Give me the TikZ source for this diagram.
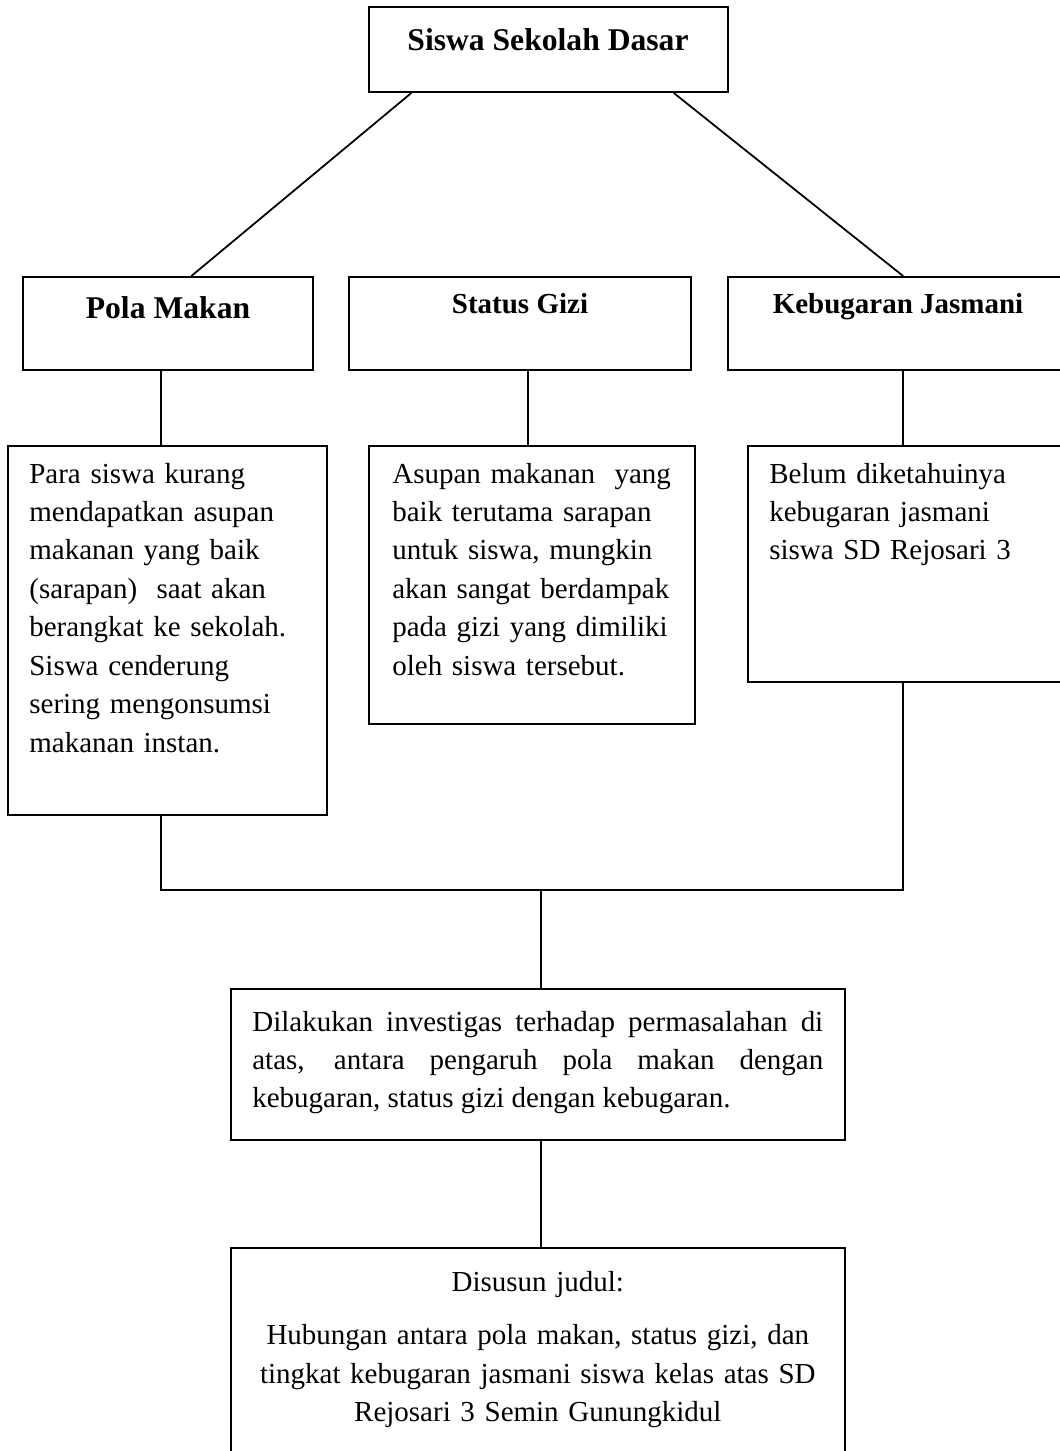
\documentclass[tikz,border=0pt]{standalone}
\usepackage{fontspec}
\setmainfont{Liberation Serif}
\usetikzlibrary{calc, fit}

\begin{document}
\begin{tikzpicture}[
x={(0.02 cm, 0 cm)}, y={(0 cm, -0.02 cm)},
% #region Picture settings %
kotak/.style={draw, line width=1.1pt, inner sep=0pt},
garis/.style={line width=1pt},
judul/.style={font=\bfseries\fontsize{16.5}{20}\selectfont, inner sep=0pt, anchor=base},
isi/.style={font=\fontsize{16.5}{21.9}\selectfont, inner sep=0pt, anchor=base west, align=left, text width=5.6cm},
% #endregion Picture settings %
]
\useasboundingbox (0,0) rectangle (1060,1451);

\node[kotak, fit={(369,7) (728,92)}] (siswa) {};
\node[kotak, fit={(23,277) (313,370)}] (pola) {};
\node[kotak, fit={(349,277) (691,370)}] (gizi) {};
\node[kotak, fit={(728,277) (1068,370)}] (bugar) {};
\node[kotak, fit={(8,446) (327,815)}] (polaisi) {};
\node[kotak, fit={(369,446) (695,724)}] (giziisi) {};
\node[kotak, fit={(748,446) (1068,682)}] (bugarisi) {};
\node[kotak, fit={(231,989) (845,1140)}] (investigasi) {};
\node[kotak, fit={(231,1248) (845,1470)}] (usulan) {};

\node[judul, font=\bfseries\fontsize{18}{22}\selectfont] (siswatxt) at (548,50) {Siswa Sekolah Dasar};
\node[judul, font=\bfseries\fontsize{18}{22}\selectfont] (polatxt) at (168,318) {Pola Makan};
\node[judul] (gizitxt) at (520,313) {Status Gizi};
\node[judul] (bugartxt) at (898,313) {Kebugaran Jasmani};

\node[isi] (polaisitxt) at (29,483) {Para siswa kurang\\ mendapatkan asupan\\ makanan yang baik\\ (sarapan)~ saat akan\\ berangkat ke sekolah.\\ Siswa cenderung\\ sering mengonsumsi\\ makanan instan.};
\node[isi] (giziisitxt) at (392,483) {Asupan makanan~ yang\\ baik terutama sarapan\\ untuk siswa, mungkin\\ akan sangat berdampak\\ pada gizi yang dimiliki\\ oleh siswa tersebut.};
\node[isi] (bugarisitxt) at (769,483) {Belum diketahuinya\\ kebugaran jasmani\\ siswa SD Rejosari 3};
\node[isi, align=justify, text width=11.42cm] (investigasitxt) at (252,1031) {Dilakukan investigas terhadap permasalahan di\linebreak atas, antara pengaruh pola makan dengan\linebreak kebugaran, status gizi dengan kebugaran.};
\node[isi, align=center, text width=11.42cm] (usulantxt) at (252,1291) {Disusun judul:\\[0.31cm] Hubungan antara pola makan, status gizi, dan\\ tingkat kebugaran jasmani siswa kelas atas SD\\ Rejosari 3 Semin Gunungkidul};

\coordinate (kiri) at (161,890);
\coordinate (tengah) at (541,890);
\coordinate (kanan) at (903,890);

\draw[garis] ($(siswa.south west)!.12!(siswa.south east)$) -- ($(pola.north west)!.58!(pola.north east)$);
\draw[garis] ($(siswa.south west)!.847!(siswa.south east)$) -- ($(bugar.north west)!.515!(bugar.north east)$);
\draw[garis] (pola.south -| kiri) -- (polaisi.north -| kiri);
\draw[garis] ($(gizi.south west)!.523!(gizi.south east)$) coordinate (g) -- (g |- giziisi.north);
\draw[garis] (bugar.south -| kanan) -- (bugarisi.north -| kanan);
\draw[garis] (polaisi.south -| kiri) -- (kiri) -- (kanan) -- (bugarisi.south -| kanan);
\draw[garis] (tengah) -- (investigasi.north -| tengah);
\draw[garis] (investigasi.south -| tengah) -- (usulan.north -| tengah);

\end{tikzpicture}
\end{document}
